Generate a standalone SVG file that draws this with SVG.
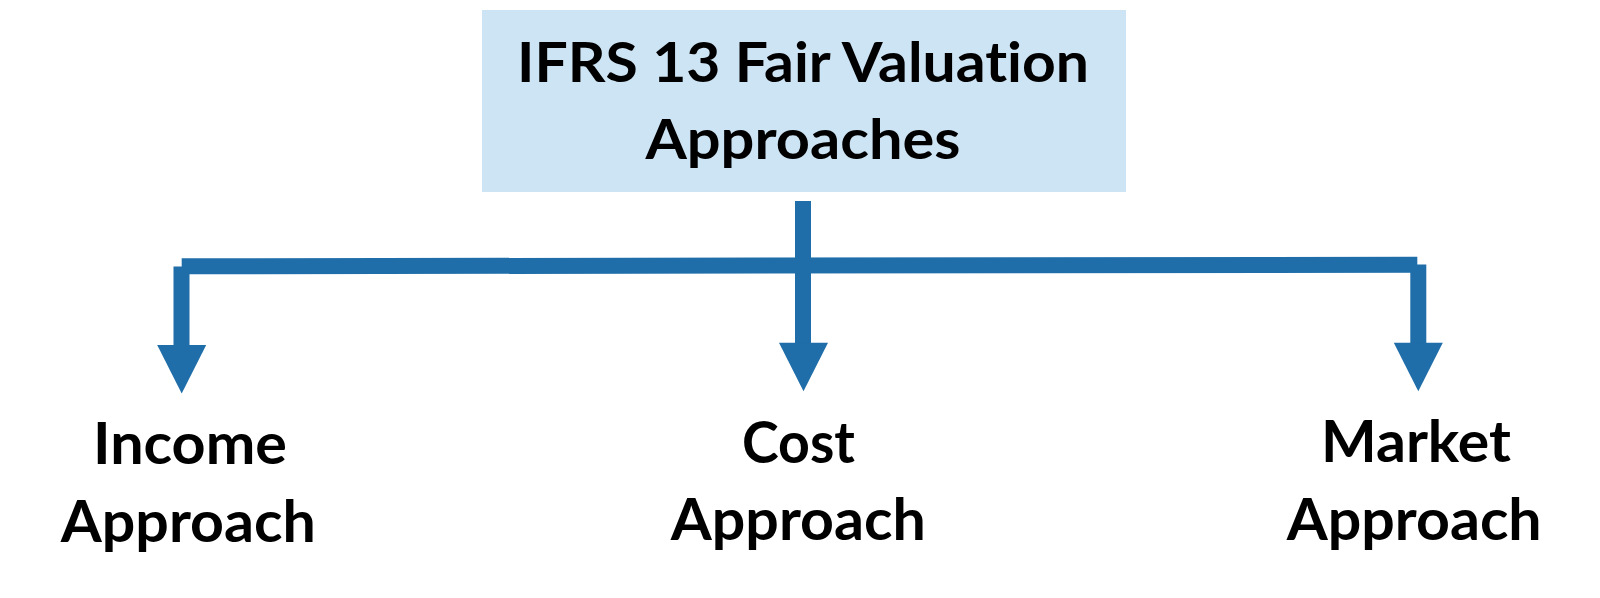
<svg xmlns="http://www.w3.org/2000/svg" xmlns:xlink="http://www.w3.org/1999/xlink" width="1600" height="598" viewBox="0 0 1600 598">
  <style>
    .lbl { font-family: Lato, "Open Sans", "Liberation Sans", sans-serif; font-weight: bold; fill: #000; text-anchor: middle; font-variant-ligatures: none; font-feature-settings: "liga" 0, "clig" 0; }
    .top { font-size: 56px; }
    .sub { font-size: 58px; }
    .conn { stroke: #1f6ea9; stroke-width: 16; fill: none; stroke-linecap: butt; }
    .head { fill: #1f6ea9; }
  </style>
  <defs>
    <path id="head" d="M-24.5,0 L24.5,0 L0,48.5 Z"/>
  </defs>
  <rect width="1600" height="598" fill="#ffffff"/>

  <g id="root">
    <rect x="482" y="10" width="644" height="182" fill="#cde4f5"/>
    <text class="lbl top" x="803" y="82" textLength="572" lengthAdjust="spacingAndGlyphs">IFRS 13 Fair Valuation</text>
    <text class="lbl top" x="803" y="159" textLength="315" lengthAdjust="spacingAndGlyphs">Approaches</text>
  </g>

  <g id="connectors">
    <line class="conn" x1="803" y1="201" x2="803" y2="343.5"/>
    <line class="conn" x1="181.7" y1="266.3" x2="1417.3" y2="264.7"/>
    <line class="conn" x1="181.5" y1="266.5" x2="181.5" y2="346"/>
    <line class="conn" x1="1418.3" y1="264.5" x2="1418.3" y2="343.5"/>
    <use xlink:href="#head" class="head" x="803.5" y="342.7"/>
    <use xlink:href="#head" class="head" x="181.7" y="345"/>
    <use xlink:href="#head" class="head" x="1418.3" y="342.7"/>
  </g>

  <g id="income">
    <text class="lbl sub" x="190" y="464" textLength="194" lengthAdjust="spacingAndGlyphs">Income</text>
    <text class="lbl sub" x="188.3" y="541.5" textLength="255" lengthAdjust="spacingAndGlyphs">Approach</text>
  </g>

  <g id="cost">
    <text class="lbl sub" x="798.5" y="462.5" textLength="113" lengthAdjust="spacingAndGlyphs">Cost</text>
    <text class="lbl sub" x="798.3" y="540" textLength="255" lengthAdjust="spacingAndGlyphs">Approach</text>
  </g>

  <g id="market">
    <text class="lbl sub" x="1416" y="461.7" textLength="190" lengthAdjust="spacingAndGlyphs">Market</text>
    <text class="lbl sub" x="1414.2" y="540" textLength="255" lengthAdjust="spacingAndGlyphs">Approach</text>
  </g>
</svg>
